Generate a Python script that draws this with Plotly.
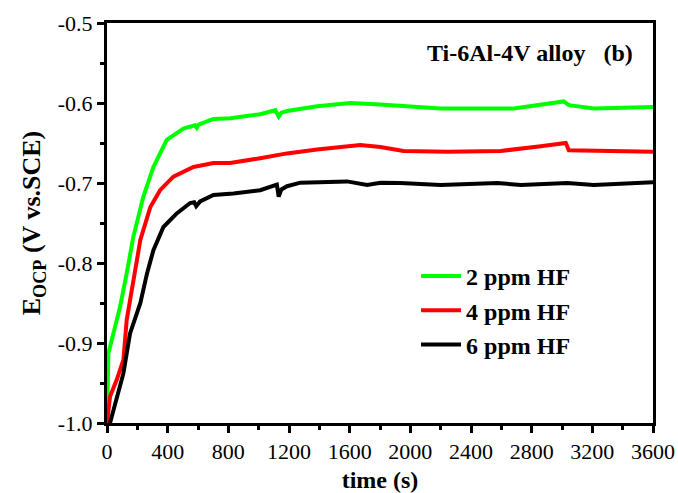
import plotly.graph_objects as go

# time (s) and OCP (V vs. SCE)
t_2ppm = [0, 9, 42, 86, 130, 174, 240, 306, 394, 504, 580, 592, 604, 702, 812, 1010, 1110, 1132, 1150, 1187, 1385, 1605, 1803, 1935, 2200, 2682, 3012, 3040, 3058, 3210, 3600]
v_2ppm = [-1.0, -0.913, -0.888, -0.855, -0.813, -0.767, -0.717, -0.680, -0.646, -0.632, -0.628, -0.631, -0.627, -0.620, -0.619, -0.614, -0.609, -0.617, -0.612, -0.610, -0.604, -0.600, -0.602, -0.604, -0.607, -0.607, -0.598, -0.602, -0.603, -0.607, -0.605]

t_4ppm = [0, 20, 64, 108, 130, 174, 220, 286, 350, 438, 570, 702, 812, 1010, 1187, 1385, 1670, 1803, 1955, 2246, 2596, 2860, 3025, 3045, 3343, 3600]
v_4ppm = [-1.0, -0.967, -0.946, -0.921, -0.871, -0.821, -0.771, -0.730, -0.709, -0.692, -0.680, -0.675, -0.675, -0.669, -0.663, -0.658, -0.6525, -0.655, -0.660, -0.661, -0.660, -0.654, -0.650, -0.659, -0.660, -0.661]

t_6ppm = [20, 64, 108, 152, 220, 264, 306, 372, 460, 548, 575, 588, 614, 702, 834, 1010, 1098, 1120, 1132, 1150, 1187, 1275, 1583, 1715, 1803, 1935, 2200, 2574, 2730, 3034, 3210, 3600]
v_6ppm = [-1.0, -0.967, -0.938, -0.888, -0.850, -0.813, -0.784, -0.755, -0.738, -0.725, -0.724, -0.729, -0.723, -0.715, -0.713, -0.709, -0.7025, -0.702, -0.717, -0.708, -0.704, -0.6996, -0.698, -0.7025, -0.6996, -0.700, -0.7025, -0.700, -0.7025, -0.700, -0.7025, -0.699]

series_names = ["2 ppm HF", "4 ppm HF", "6 ppm HF"]
series_colors = ["#00ff00", "#ff0000", "#000000"]

x_ticks = list(range(0, 3601, 400))
y_ticks = [-1.0, -0.9, -0.8, -0.7, -0.6, -0.5]

FONT = "Liberation Serif, Times New Roman, serif"

fig = go.Figure()
for t, v, name, col in zip([t_2ppm, t_4ppm, t_6ppm], [v_2ppm, v_4ppm, v_6ppm], series_names, series_colors):
    fig.add_trace(go.Scatter(x=t, y=v, mode="lines", name=name,
                             line=dict(color=col, width=4)))

fig.update_layout(
    width=678, height=493,
    margin=dict(l=107, r=25, t=23, b=70),
    paper_bgcolor="white", plot_bgcolor="white",
    font=dict(family=FONT, color="black", size=22),
    showlegend=True,
    legend=dict(x=0.566, y=0.4225, xanchor="left", yanchor="top",
                bgcolor="rgba(0,0,0,0)", borderwidth=0,
                font=dict(family=FONT, size=24, color="black", weight="bold"),
                tracegroupgap=0, itemwidth=40),
    annotations=[dict(text="<b>Ti-6Al-4V alloy&nbsp;&nbsp; (b)</b>", x=0.967, y=0.9625,
                      xref="paper", yref="paper", xanchor="right", yanchor="top",
                      showarrow=False, font=dict(family=FONT, size=24, color="black"))],
)
fig.update_xaxes(
    range=[0, 3600], tickvals=x_ticks, ticktext=[str(v) for v in x_ticks],
    showline=True, linecolor="black", linewidth=3, mirror=True,
    ticks="outside", ticklen=7, tickwidth=2.5, tickcolor="black",
    minor=dict(dtick=200, ticks="outside", ticklen=4, tickwidth=2.5, tickcolor="black"),
    showgrid=False, zeroline=False, automargin=False,
    tickfont=dict(family=FONT, size=22),
    title=dict(text="<b>time (s)</b>", font=dict(family=FONT, size=24), standoff=17),
)
fig.update_yaxes(
    range=[-1.0, -0.5], tickvals=y_ticks, ticktext=["%.1f" % v for v in y_ticks],
    showline=True, linecolor="black", linewidth=3, mirror=True,
    ticks="outside", ticklen=7, tickwidth=2.5, tickcolor="black",
    minor=dict(dtick=0.05, tick0=-1.0, ticks="outside", ticklen=4, tickwidth=2.5, tickcolor="black"),
    showgrid=False, zeroline=False, automargin=False,
    tickfont=dict(family=FONT, size=22),
    title=dict(text="<b>E<sub>OCP</sub> (V vs.SCE)</b>", font=dict(family=FONT, size=26), standoff=10),
)

fig.write_html("out.html")
